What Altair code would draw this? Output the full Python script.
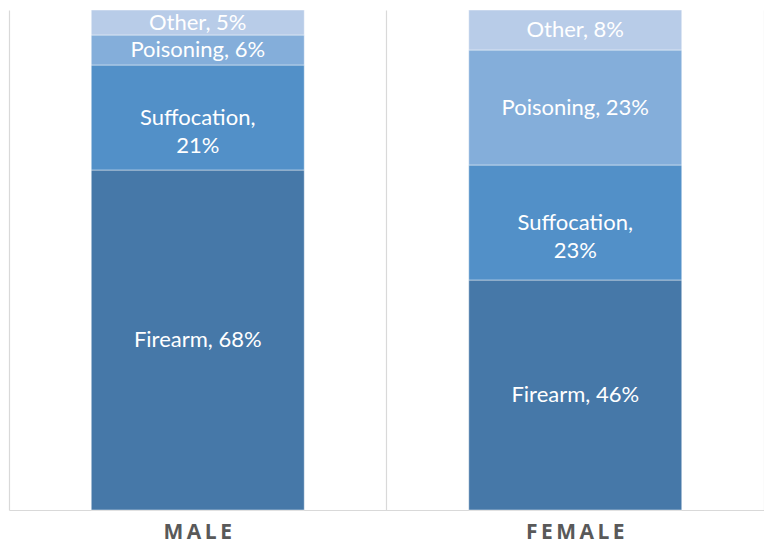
import altair as alt
import pandas as pd

sexes = ["MALE", "MALE", "MALE", "MALE", "FEMALE", "FEMALE", "FEMALE", "FEMALE"]
methods = ["Firearm", "Suffocation", "Poisoning", "Other"] * 2
shares = [68, 21, 6, 5, 46, 23, 23, 8]
method_order = ["Firearm", "Suffocation", "Poisoning", "Other"]
method_colors = ["#4678A8", "#5290C8", "#84AEDA", "#B8CCE8"]
wrapped = ["Suffocation"]

df = pd.DataFrame({"sex": sexes, "method": methods, "share": shares})
df["ord"] = df["method"].map({m: i for i, m in enumerate(method_order)})
df["label"] = [
    f"{m},\n{v}%" if m in wrapped else f"{m}, {v}%" for m, v in zip(df["method"], df["share"])
]

grid_color = "#d9d9d9"
plot_w = 755

base = alt.Chart(df).transform_stack(
    stack="share", groupby=["sex"], sort=[alt.SortField("ord", order="ascending")], as_=["y0", "y1"]
).transform_calculate(mid="(datum.y0 + datum.y1) / 2")

x_enc = alt.X(
    "sex:N",
    sort=["MALE", "FEMALE"],
    title=None,
    scale=alt.Scale(paddingInner=0, paddingOuter=0),
    axis=alt.Axis(
        labelAngle=0,
        labelFont="Open Sans",
        labelFontWeight="bold",
        labelFontSize=21,
        labelColor="#595959",
        labelPadding=11,
        labelExpr="join(split(datum.label, ''), '\u2009')",
        ticks=False,
        tickSize=0,
        grid=True,
        bandPosition=0,
        gridColor=grid_color,
        gridWidth=1.2,
        domainColor=grid_color,
        domainWidth=1.2,
    ),
)

y_scale = alt.Scale(domain=[0, 100], nice=False)

bars = base.mark_bar(
    stroke="#ffffff", strokeWidth=0.75, strokeOpacity=0.6,
    width=alt.RelativeBandSize(213 / (plot_w / 2)),
).encode(
    x=x_enc,
    y=alt.Y(
        "y0:Q",
        scale=y_scale,
        title=None,
        axis=alt.Axis(
            orient="right", labels=False, ticks=False, grid=False,
            domainColor=grid_color, domainWidth=1.2, title=None,
        ),
    ),
    y2="y1:Q",
    color=alt.Color(
        "method:N",
        scale=alt.Scale(domain=method_order, range=method_colors),
        legend=None,
    ),
)

texts = base.mark_text(
    color="white", font="Lato", fontSize=22, lineBreak="\n", lineHeight=28, baseline="middle"
).encode(
    x=alt.X("sex:N", sort=["MALE", "FEMALE"]),
    y=alt.Y("mid:Q", scale=y_scale),
    text="label:N",
)

chart = (
    alt.layer(bars, texts)
    .properties(
        width=plot_w,
        height=500,
        padding={"left": 1, "top": 2, "right": 0, "bottom": 38},
        autosize=alt.AutoSizeParams(type="none"),
    )
    .configure_view(stroke=None)
)

chart.save("out.html", embed_options={"renderer": "svg", "actions": False})
